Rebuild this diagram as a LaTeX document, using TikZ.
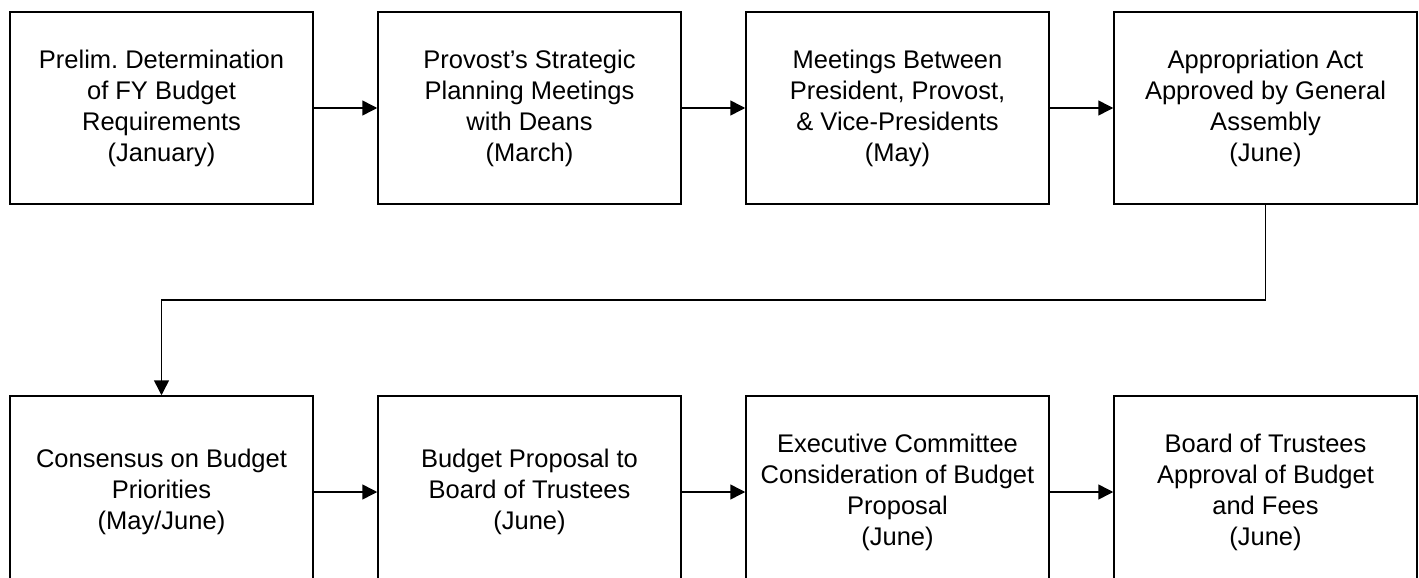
\documentclass[tikz,border=0pt]{standalone}
\usepackage{fontspec}
\setmainfont{Liberation Sans}
\usetikzlibrary{arrows.meta}
\frenchspacing
\begin{document}
\begin{tikzpicture}[x=1pt,y=-1pt,
  stepbox/.style={draw=black, line width=1.5pt, minimum width=303pt, minimum height=192pt,
    inner sep=0pt, align=center, font=\fontsize{25.5}{31}\selectfont},
  conn/.style={line width=1.5pt, -{Triangle[length=15pt,width=15pt]}}]
\clip (0,0) rectangle (1419,578);
\useasboundingbox (0,0) rectangle (1419,578);
\node[stepbox] (a1) at (161.5,108) {Prelim.\ Determination\\of FY Budget\\Requirements\\(January)};
\node[stepbox] (a2) at (529.5,108) {Provost’s Strategic\\Planning Meetings\\with Deans\\(March)};
\node[stepbox] (a3) at (897.5,108) {Meetings Between\\President, Provost,\\\& Vice-Presidents\\(May)};
\node[stepbox] (a4) at (1265.5,108) {Appropriation Act\\Approved by General\\Assembly\\(June)};
\node[stepbox] (b1) at (161.5,492) {Consensus on Budget\\Priorities\\(May/June)};
\node[stepbox] (b2) at (529.5,492) {Budget Proposal to\\Board of Trustees\\(June)};
\node[stepbox] (b3) at (897.5,492) {Executive Committee\\Consideration of Budget\\Proposal\\(June)};
\node[stepbox] (b4) at (1265.5,492) {Board of Trustees\\Approval of Budget\\and Fees\\(June)};
\draw[conn] (a1) -- (a2);
\draw[conn] (a2) -- (a3);
\draw[conn] (a3) -- (a4);
\draw[conn] (a4.south) -- ++(0,95) -| (b1.north);
\draw[conn] (b1) -- (b2);
\draw[conn] (b2) -- (b3);
\draw[conn] (b3) -- (b4);
\end{tikzpicture}
\end{document}
